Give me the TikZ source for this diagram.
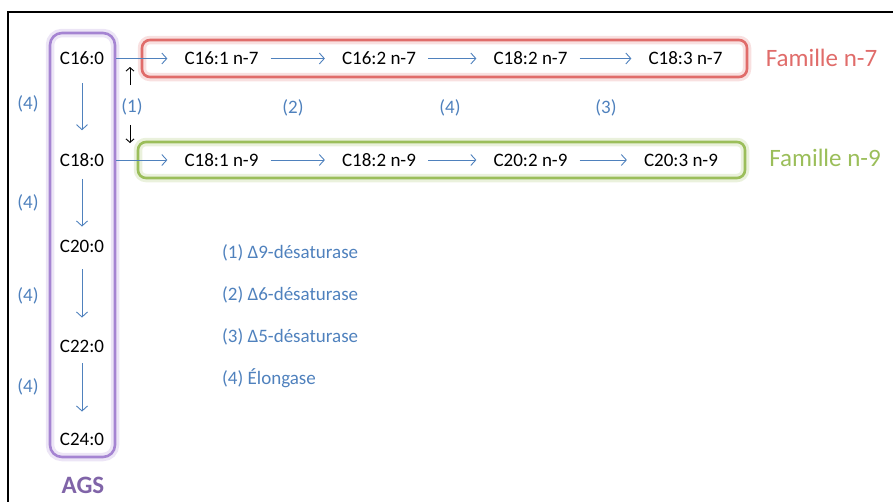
\documentclass[tikz,border=0pt]{standalone}
\usepackage{fontspec}
\setmainfont{Carlito}
\usetikzlibrary{arrows.meta}
\definecolor{famred}{RGB}{224,108,106}
\definecolor{famgreen}{RGB}{155,190,90}
\definecolor{agspurple}{RGB}{128,100,168}
\definecolor{boxpurple}{RGB}{165,132,210}
\definecolor{enzblue}{RGB}{79,129,189}

\begin{document}
\begin{tikzpicture}[x=1pt, y=-1pt, font=\fontsize{19}{22}\selectfont,
familybox/.style={rectangle, rounded corners=8pt, draw=#1, line width=2.6pt,
preaction={draw=#1!60, line width=8.5pt, opacity=0.35}},
acid/.style={inner sep=0pt},
enzyme/.style={inner sep=0pt, text=enzblue},
famlabel/.style={inner sep=0pt, text=#1, font=\fontsize{25}{30}\selectfont},
conv/.style={-{Straight Barb[length=5pt,width=11pt]}, draw=enzblue, line width=0.9pt,
shorten <=12pt, shorten >=17pt},
pointer/.style={-{Straight Barb[length=3.5pt,width=8pt]}, line width=0.9pt}
]
\useasboundingbox (0,0) rectangle (893,501);

% Frame
\draw[line width=2pt] (8,530) -- (8,11.5) -- (920,11.5);

% Family boxes
\node[familybox=boxpurple, minimum width=65pt, minimum height=424pt,
rounded corners=12pt] (agsbox) at (82.5,245) {};
\node[familybox=famred, minimum width=605pt, minimum height=37pt] (n7box) at (444.5,58.5) {};
\node[familybox=famgreen, minimum width=607pt, minimum height=36pt] (n9box) at (441.5,160) {};

% Saturated acids
\node[acid] (c160) at (82,58.5) {C16:0};
\node[acid] (c180) at (82,160) {C18:0};
\node[acid] (c200) at (82,246) {C20:0};
\node[acid] (c220) at (82,346) {C22:0};
\node[acid] (c240) at (82,439) {C24:0};
\node[inner sep=0pt, text=agspurple, font=\fontsize{25}{30}\selectfont\bfseries]
(ags) at (83,485) {AGS};

% Family n-7
\node[acid] (c161) at (221.5,58.5) {C16:1 n-7};
\node[acid] (c162) at (379,58.5) {C16:2 n-7};
\node[acid] (c182a) at (530.5,58.5) {C18:2 n-7};
\node[acid] (c183) at (685.5,58.5) {C18:3 n-7};
\node[famlabel=famred] (n7) at (821.5,58) {Famille n-7};

% Family n-9
\node[acid] (c181) at (221.5,160) {C18:1 n-9};
\node[acid] (c182b) at (379,160) {C18:2 n-9};
\node[acid] (c202) at (530.5,160) {C20:2 n-9};
\node[acid] (c203) at (681,160) {C20:3 n-9};
\node[famlabel=famgreen] (n9) at (825,158) {Famille n-9};

% Enzyme numbers
\node[enzyme] (e1) at (132,106.5) {(1)};
\node[enzyme] (e2) at (293,108) {(2)};
\node[enzyme] (e4) at (450,108) {(4)};
\node[enzyme] (e3) at (606,108) {(3)};
\node[enzyme] (el1) at (28,104) {(4)};
\node[enzyme] (el2) at (28,203) {(4)};
\node[enzyme] (el3) at (28,296) {(4)};
\node[enzyme] (el4) at (28,387) {(4)};

% Legend
\node[enzyme, anchor=west] (leg1) at (222,253) {(1) Δ9-désaturase};
\node[enzyme, anchor=west] (leg2) at (222,295) {(2) Δ6-désaturase};
\node[enzyme, anchor=west] (leg3) at (222,337) {(3) Δ5-désaturase};
\node[enzyme, anchor=west] (leg4) at (222,378) {(4) Élongase};

% Arrows
\draw[conv, shorten <=18pt, shorten >=23pt] (c160) -- (c180);
\draw[conv, shorten <=12pt, shorten >=13pt] (c180) -- (c200);
\draw[conv, shorten <=17pt, shorten >=22pt] (c200) -- (c220);
\draw[conv, shorten <=11pt, shorten >=21pt] (c220) -- (c240);

\draw[conv] (c160) -- (c161);
\draw[conv] (c161) -- (c162);
\draw[conv] (c162) -- (c182a);
\draw[conv] (c182a) -- (c183);

\draw[conv] (c180) -- (c181);
\draw[conv] (c181) -- (c182b);
\draw[conv] (c182b) -- (c202);
\draw[conv] (c202) -- (c203);

\coordinate (upend) at (130,67);
\coordinate (downend) at (130,143);
\draw[pointer, shorten <=13pt] (e1.north -| upend) -- (upend);
\draw[pointer, shorten <=10pt] (e1.south -| downend) -- (downend);

\end{tikzpicture}
\end{document}
